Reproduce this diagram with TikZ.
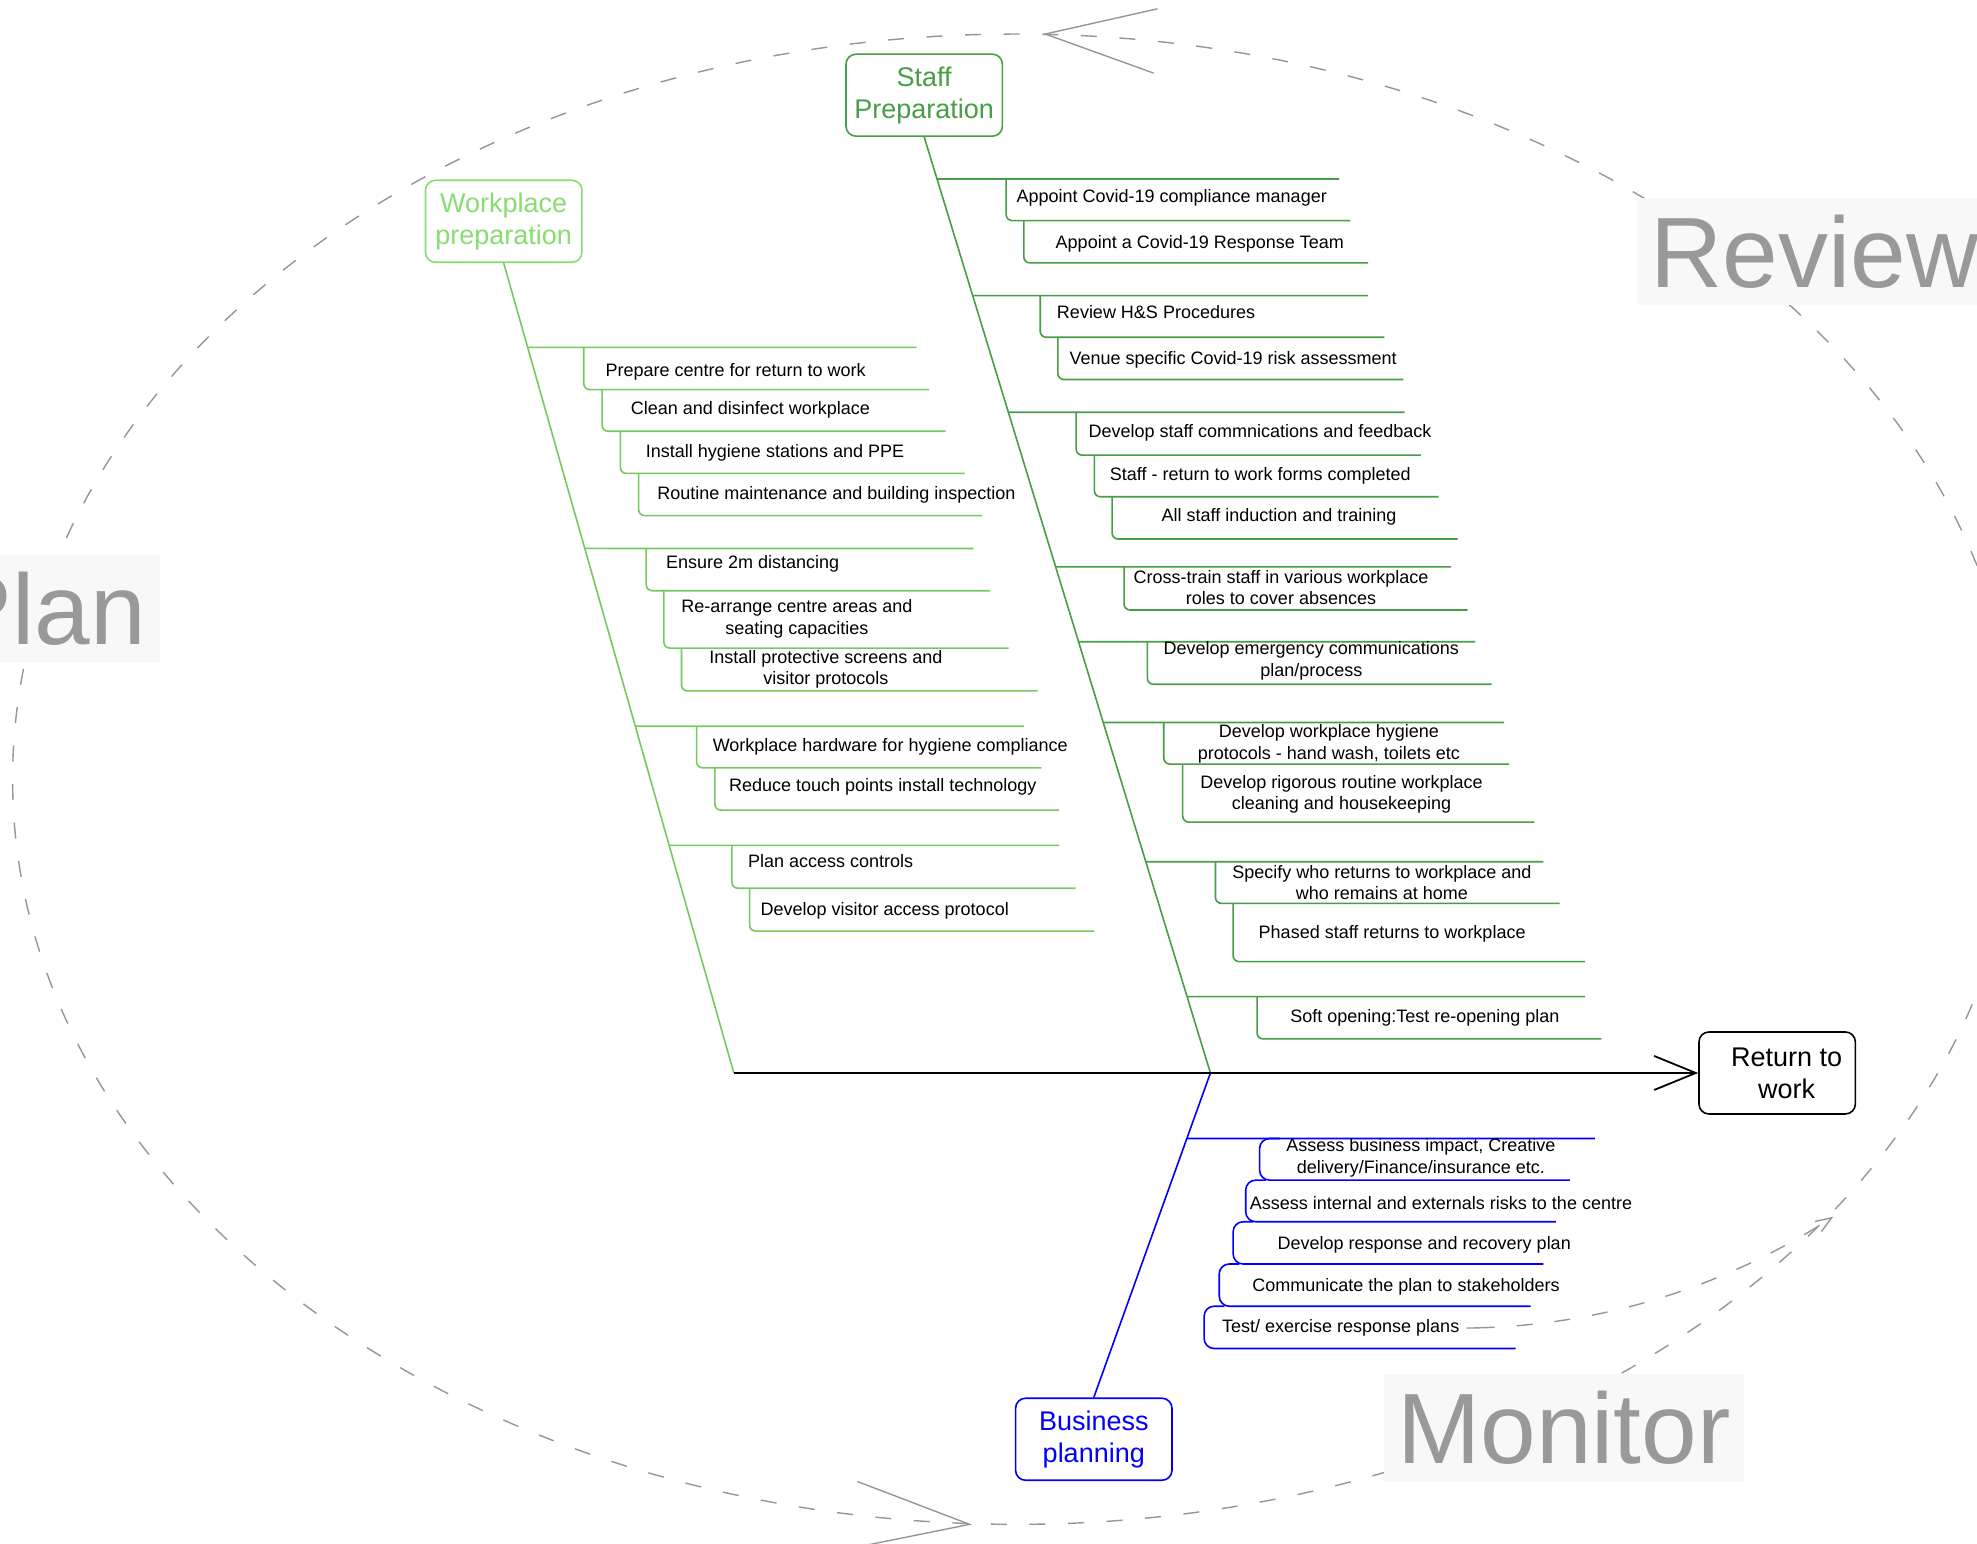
\documentclass[tikz,border=0pt]{standalone}
\usepackage{fontspec}
\setmainfont{Liberation Sans}
\usetikzlibrary{arrows.meta,calc}

\definecolor{staffc}{RGB}{71,158,71}
\definecolor{workc}{RGB}{118,201,94}
\definecolor{worktxt}{RGB}{136,221,112}
\definecolor{bizc}{RGB}{0,0,255}
\definecolor{loopc}{RGB}{150,150,150}
\definecolor{phasebg}{RGB}{248,248,248}
\definecolor{phasetxt}{RGB}{153,153,153}

% rib helpers: a branch line leaving a bone at height #3, and the stepped sub-branches
\newcommand\ribline[4]{\draw (intersection cs: first line={(#1)--(#2)}, second line={(0,#3)--(1,#3)}) -- (#4,#3);}
\newcommand\ribitem[4]{\draw[rounded corners=3pt] (#1,#2) -- (#1,#3) -- (#4,#3);}
\newcommand\bizitem[4]{\draw[rounded corners=5pt] ({#1+16},#2) -- (#1,#2) -- (#1,#3) -- (#4,#3);}

\begin{document}
\begin{tikzpicture}[x=0.6304pt,y=-0.6304pt,
  catbox/.style={draw, rounded corners=5pt, line width=0.8pt, minimum width=78.2pt,
    minimum height=41pt, inner sep=0pt, align=center, font=\fontsize{13.5}{16}\selectfont},
  phaselabel/.style={fill=phasebg, text=phasetxt, font=\fontsize{50}{60}\selectfont,
    inner xsep=6.8pt, inner ysep=0pt, minimum height=53.6pt, text height=36pt, text depth=0pt},
  task/.style={inner sep=0pt, font=\fontsize{9}{10.8}\selectfont, align=center},
  taskl/.style={task, anchor=base west},
  bone/.style={line width=0.8pt},
  loopline/.style={draw=loopc, line width=0.7pt, dash pattern=on 8pt off 11.3pt},
  loopbarb/.style={draw=loopc, line width=0.7pt},
]
\path[use as bounding box] (0,0) rectangle (1568,1223.8);
\fill[white] (0,0) rectangle (1568,1223.8);
\clip (0,0) rectangle (1568,1223.8);

% Plan - Monitor - Review cycle
\draw[loopline] (805.6,618) ellipse [x radius=795.6, y radius=591];
\coordinate (ctop) at (829,27);
\draw[loopbarb] (918,7) -- (ctop) -- (915,58);
\coordinate (cbot) at (769,1209);
\draw[loopbarb] (680,1175) -- (cbot) -- (675,1228);

\node[phaselabel, anchor=east] (plan) at (127,482.5) {Plan};
\node[phaselabel, anchor=west] (review) at (1298,199.5) {Review};
\node[phaselabel, anchor=west] (monitor) at (1097,1132.5) {Monitor};

% heads
\node[catbox, draw=staffc, text=staffc] (sp) at (733,75.5) {Staff\\Preparation};
\node[catbox, draw=worktxt, text=worktxt] (wp) at (399.5,175.5) {Workplace\\preparation};
\node[catbox, draw=bizc, text=bizc] (bp) at (867.5,1141.5) {Business\\planning};
\node[catbox, draw=black] (rtw) at (1409.5,851) {\hspace*{9.4pt}Return to\\\hspace*{9.4pt}work};

% spine and bones
\coordinate (jw) at (582,851);
\coordinate (js) at (960,851);
\draw[bone, staffc] (sp.south) -- (js);
\draw[bone, workc] (wp.south) -- (jw);
\draw[bone, bizc] (bp.north) -- (js);
\draw[line width=0.9pt, -{Straight Barb[length=20.8pt,width=17pt]}] (jw) -- (rtw.west);

% staff preparation ribs
\begin{scope}[bone, staffc]
  \ribline{sp.south}{js}{142}{1062}
  \ribitem{798}{142}{175}{1071}
  \ribitem{812}{175}{208.5}{1085}
  \ribline{sp.south}{js}{234.5}{1085}
  \ribitem{825}{234.5}{267.5}{1098}
  \ribitem{839}{267.5}{301}{1113}
  \ribline{sp.south}{js}{327}{1114}
  \ribitem{853.5}{327}{361}{1127}
  \ribitem{868}{361}{394}{1141}
  \ribitem{882}{394}{427.5}{1156}
  \ribline{sp.south}{js}{449.6}{1151}
  \ribitem{891.5}{449.6}{483.8}{1164}
  \ribline{sp.south}{js}{509}{1170}
  \ribitem{910}{509}{542.7}{1183}
  \ribline{sp.south}{js}{573}{1193}
  \ribitem{923}{573}{606}{1197}
  \ribitem{938}{606}{652}{1217}
  \ribline{sp.south}{js}{683.5}{1224}
  \ribitem{964}{683.5}{716.5}{1237}
  \ribitem{978}{716.5}{762.7}{1257}
  \ribline{sp.south}{js}{790.5}{1257}
  \ribitem{997}{790.5}{824}{1270}
\end{scope}

% workplace preparation ribs
\begin{scope}[bone, workc]
  \ribline{wp.south}{jw}{275.5}{727}
  \ribitem{463}{275.5}{309}{737}
  \ribitem{477.5}{309}{342}{750}
  \ribitem{492}{342}{375.5}{765}
  \ribitem{506.5}{375.5}{409}{779}
  \ribline{wp.south}{jw}{435}{772}
  \ribitem{512.5}{435}{468.5}{785}
  \ribitem{526.5}{468.5}{514}{800}
  \ribitem{540.5}{514}{548}{823}
  \ribline{wp.south}{jw}{576}{812}
  \ribitem{552.5}{576}{609}{826}
  \ribitem{567}{609}{642.5}{840}
  \ribline{wp.south}{jw}{670.5}{840}
  \ribitem{580.5}{670.5}{704.5}{853}
  \ribitem{594.5}{704.5}{738.5}{868}
\end{scope}

% business planning ribs
\begin{scope}[bone, bizc]
  \ribline{bp.north}{js}{903}{1265}
  \bizitem{999}{903}{936}{1245}
  \bizitem{988}{936}{969}{1234}
  \bizitem{978}{969}{1002.5}{1224}
  \bizitem{967}{1002.5}{1036}{1214}
  \bizitem{955}{1036}{1069.5}{1202}
\end{scope}

% staff preparation tasks
\node[taskl] (s1) at (806,161) {Appoint Covid-19 compliance manager};
\node[taskl] (s2) at (837,197) {Appoint a Covid-19 Response Team};
\node[taskl] (s3) at (838,253) {Review H\&S Procedures};
\node[taskl] (s4) at (848,289) {Venue specific Covid-19 risk assessment};
\node[taskl] (s5) at (863,347) {Develop staff commnications and feedback};
\node[taskl] (s6) at (880,381) {Staff - return to work forms completed};
\node[taskl] (s7) at (921,414) {All staff induction and training};
\node[task] (s8) at (1016,466) {Cross-train staff in various workplace\\roles to cover absences};
\node[task] (s9) at (1040,524) {Develop emergency communications\\plan/process};
\node[task] (s10) at (1054,590) {Develop workplace hygiene\\protocols - hand wash, toilets etc};
\node[task] (s11) at (1064,630) {Develop rigorous routine workplace\\cleaning and housekeeping};
\node[task] (s12) at (1096,700) {Specify who returns to workplace and\\who remains at home};
\node[taskl] (s13) at (998,744) {Phased staff returns to workplace};
\node[taskl] (s14) at (1023,811) {Soft opening:Test re-opening plan};

% workplace preparation tasks
\node[taskl] (w1) at (480,299) {Prepare centre for return to work};
\node[taskl] (w2) at (500,329) {Clean and disinfect workplace};
\node[taskl] (w3) at (512,363) {Install hygiene stations and PPE};
\node[taskl] (w4) at (521,396) {Routine maintenance and building inspection};
\node[taskl] (w5) at (528,451) {Ensure 2m distancing};
\node[task] (w6) at (632,491) {Re-arrange centre areas and\\seating capacities};
\node[task] (w7) at (655,531) {Install protective screens and\\visitor protocols};
\node[taskl] (w8) at (565,596) {Workplace hardware for hygiene compliance};
\node[taskl] (w9) at (578,628) {Reduce touch points install technology};
\node[taskl] (w10) at (593,688) {Plan access controls};
\node[taskl] (w11) at (603,726) {Develop visitor access protocol};

% business planning tasks
\node[task] (b1) at (1127,918.5) {Assess business impact, Creative\\delivery/Finance/insurance etc.};
\node[taskl] (b2) at (991,959) {Assess internal and externals risks to the centre};
\node[taskl] (b3) at (1013,991) {Develop response and recovery plan};
\node[taskl] (b4) at (993,1024) {Communicate the plan to stakeholders};
\node[taskl] (b5) at (969,1057) {Test/ exercise response plans};

% testing feeds back into the cycle
\coordinate (tcyc) at (1454,965);
\draw[loopbarb, dash pattern=on 14pt off 11pt on 8pt off 11pt on 8pt off 11pt on 8pt off 11pt
  on 8pt off 11pt on 8pt off 11pt on 8pt off 11pt on 8pt off 11pt on 8pt off 11pt on 8pt off 11pt
  on 8pt off 11pt, -{Straight Barb[length=8pt,width=6pt]}]
  ([xshift=3.5pt]b5.east) .. controls (1300,1052) and (1400,1000) .. (tcyc);
\end{tikzpicture}
\end{document}
